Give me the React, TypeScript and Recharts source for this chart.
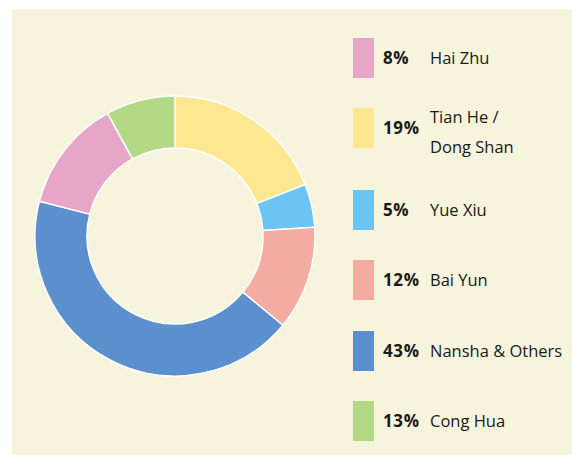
import { Legend, Pie, PieChart, Cell } from "recharts";

// slices clockwise from 12 o'clock, as drawn
const sliceNames = ["Tian He / Dong Shan", "Yue Xiu", "Bai Yun", "Nansha & Others", "Hai Zhu", "Cong Hua"];
const sliceValues = [19, 5, 12, 43, 13, 8];
const sliceColors = ["#fde891", "#6bc4f1", "#f4aca2", "#5b8fcd", "#e6a6c7", "#b3d886"];

// legend rows, top to bottom
const legendPercents = ["8%", "19%", "5%", "12%", "43%", "13%"];
const legendLabels = [["Hai Zhu"], ["Tian He /", "Dong Shan"], ["Yue Xiu"], ["Bai Yun"], ["Nansha & Others"], ["Cong Hua"]];
const legendColors = ["#e6a6c7", "#fde891", "#6bc4f1", "#f4aca2", "#5b8fcd", "#b3d886"];
const legendTops = [0, 70, 152, 222, 293, 363];

const pieData = sliceNames.map((name, i) => ({ name, value: sliceValues[i] }));

function SideLegend() {
  return (
    <div style={{ position: "relative", width: 220, height: 420 }}>
      {legendPercents.map((pct, i) => (
        <div key={i} style={{ position: "absolute", left: 0, top: legendTops[i], height: 40, width: 220 }}>
          <div style={{ position: "absolute", left: 0, top: 0, width: 21, height: 40, background: legendColors[i] }} />
          <div
            style={{
              position: "absolute",
              left: 30,
              top: 0,
              height: 40,
              lineHeight: "40px",
              fontWeight: 700,
              fontSize: 17,
              letterSpacing: 0.6,
              color: "#1a1a1a"
            }}
          >
            {pct}
          </div>
          <div
            style={{
              position: "absolute",
              left: 77,
              top: legendLabels[i].length > 1 ? -2 : 0,
              height: legendLabels[i].length > 1 ? 52 : 40,
              display: "flex",
              flexDirection: "column",
              justifyContent: "center",
              fontSize: 16.5,
              lineHeight: "30px",
              color: "#1a1a1a",
              whiteSpace: "nowrap"
            }}
          >
            {legendLabels[i].map((l) => (
              <span key={l}>{l}</span>
            ))}
          </div>
        </div>
      ))}
    </div>
  );
}

export default function App() {
  return (
    <div style={{ position: "absolute", left: 0, top: 0, width: 575, height: 455, background: "#fff", fontFamily: "'Open Sans', sans-serif" }}>
      <div style={{ position: "absolute", left: 12, top: 9, width: 560, height: 446, background: "#f6f4dc" }} />
      <div style={{ position: "absolute", left: 0, top: 0 }}>
        <PieChart width={575} height={455} margin={{ top: 0, right: 0, bottom: 0, left: 0 }}>
          <Pie
            data={pieData}
            dataKey="value"
            nameKey="name"
            cx={175}
            cy={236}
            innerRadius={88}
            outerRadius={140}
            startAngle={90}
            endAngle={-270}
            stroke="#ffffff"
            strokeWidth={1.5}
            isAnimationActive={false}
          >
            {pieData.map((entry, i) => (
              <Cell key={entry.name} fill={sliceColors[i]} />
            ))}
          </Pie>
          <Legend
            layout="vertical"
            content={() => <SideLegend />}
            wrapperStyle={{ position: "absolute", left: 353, top: 38, width: 220, height: 420 }}
          />
        </PieChart>
      </div>
    </div>
  );
}
